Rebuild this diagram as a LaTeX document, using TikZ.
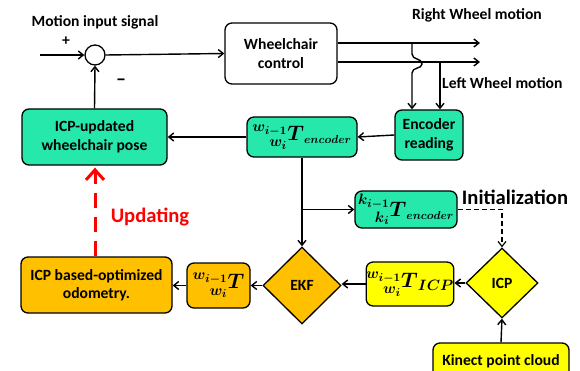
\RequirePackage{fix-cm}
\documentclass[tikz,border=0pt]{standalone}
\usepackage{fontspec}
\setmainfont{Carlito}
\usepackage{mathtools}
\DeclareMathSizes{21}{21}{15}{11.5}
\usetikzlibrary{arrows.meta,shapes.geometric,calc}
\definecolor{cgreen}{RGB}{38,232,170}
\definecolor{cyellow}{RGB}{255,255,0}
\definecolor{corange}{RGB}{255,192,0}
\definecolor{cred}{RGB}{255,0,0}
\begin{document}
\begin{tikzpicture}[x=1pt,y=-1pt,
  txt/.style={font=\fontsize{15.6}{17}\selectfont\bfseries, align=center, inner sep=0pt},
  btxt/.style={font=\fontsize{15.6}{18.5}\selectfont\bfseries},
  bigtxt/.style={font=\fontsize{20.6}{24}\selectfont\bfseries, inner sep=0pt},
  mth/.style={font=\fontsize{21}{24}\selectfont\boldmath},
  box/.style={draw=black, line width=1.3pt, rounded corners=7pt, inner sep=0pt, align=center},
  gbox/.style={box, fill=cgreen},
  ybox/.style={box, fill=cyellow},
  obox/.style={box, fill=corange},
  dia/.style={diamond, draw=black, line width=1.3pt, inner sep=0pt},
  arr/.style={line width=1.4pt, -{Straight Barb[length=5pt,width=8pt]}},
  ln/.style={line width=1.4pt}
]
\useasboundingbox (0,0) rectangle (580,371);
% summing junction
\node[circle, draw, line width=1.3pt, minimum size=20pt, inner sep=0pt] (sum) at (95,55) {};
\coordinate (inL) at (40,55);
\node[txt] (mis) at (95,22) {Motion input signal};
\node[txt] (plus) at (66,41) {+};
\node[txt, font=\fontsize{20}{22}\selectfont\bfseries] (minus) at (121,82) {--};

% boxes
\node[box, fill=white, minimum width=112pt, minimum height=61pt, btxt] (wc) at (281,53.5) {Wheelchair\\control};
\node[gbox, minimum width=68pt, minimum height=50pt, btxt] (enc) at (429,135) {Encoder\\reading};
\node[gbox, minimum width=110pt, minimum height=40pt, mth] (tenc) at (302,137) {$\prescript{w_{i-1}}{w_i}{T}_{\scriptscriptstyle encoder}$};
\node[gbox, minimum width=145pt, minimum height=56pt, btxt] (icpup) at (94.5,137) {ICP-updated\\wheelchair pose};
\node[gbox, minimum width=102pt, minimum height=37pt, mth] (ktenc) at (406,209.5) {$\prescript{k_{i-1}}{k_i}{T}_{\scriptscriptstyle encoder}$};
\node[dia, fill=cyellow, minimum width=72pt, minimum height=70pt, btxt] (icp) at (502,283) {ICP};
\node[ybox, minimum width=136pt, minimum height=37pt, btxt] (kin) at (501,361.5) {Kinect point cloud};
\node[ybox, minimum width=82pt, minimum height=44pt, mth] (ticp) at (410,284) {$\prescript{w_{i-1}}{w_i}{T}_{ICP}$};
\node[dia, fill=corange, minimum width=78pt, minimum height=77pt, btxt] (ekf) at (302,285.5) {EKF};
\node[obox, minimum width=63pt, minimum height=45pt, mth] (wt) at (218.5,285.5) {$\prescript{w_{i-1}}{w_i}{T}$};
\node[obox, minimum width=151pt, minimum height=56pt, btxt] (icpb) at (96.5,285) {ICP based-optimized\\odometry.};

% labels
\node[txt] (rwm) at (477,15) {Right Wheel motion};
\node[txt, anchor=west] (lwm) at (442,83) {Left Wheel motion};
\node[bigtxt] (init) at (515,197) {Initialization};
\node[bigtxt, text=cred] (upd) at (150,217) {Updating};

% connectors
\coordinate (rwE) at (480,43);
\coordinate (lwE) at (480,62);
\draw[arr] (inL) -- (sum.west);
\draw[arr] (sum.east) -- (wc.west);
\draw[arr] (wc.east |- rwE) -- (rwE);
\draw[arr] (wc.east |- lwE) -- (lwE);
\coordinate (lwB) at (440,62);
\draw[arr] (lwB) -- (lwB |- enc.north);
\coordinate (rwB) at (412,43);
\draw[arr] (rwB) -- (412,54) .. controls (412,60) and (422,58) .. (422,64) .. controls (422,69) and (412,67) .. (412,73) -- (rwB |- enc.north);
\draw[arr] (enc.west) -- (tenc.east);
\draw[arr] (tenc.west) -- (icpup.east);
\draw[arr] (icpup.north) -- (sum.south);
\draw[arr] (tenc.south) -- (ekf.north);
\coordinate (br) at (tenc.south |- ktenc.west);
\draw[arr] (br) -- (ktenc.west);
\draw[line width=1.2pt, dash pattern=on 5pt off 3pt, -{Straight Barb[length=5pt,width=8pt]}] (ktenc.east) -- (icp.north |- ktenc.east) -- (icp.north);
\draw[arr] (kin.north) -- (icp.south);
\draw[arr] (icp.west) -- (ticp.east |- icp.west);
\draw[arr] (ticp.west) -- (ekf.east |- ticp.west);
\draw[arr] (ekf.west) -- (wt.east |- ekf.west);
\draw[arr] (wt.west) -- (icpb.east |- wt.west);
\draw[cred, line width=3pt, dash pattern=on 15pt off 9pt, -{Straight Barb[length=10pt,width=18pt]}] ($(icpb.north)+(-1.5,0)$) -- ($(icpup.south)+(0.5,2)$);
\end{tikzpicture}
\end{document}
